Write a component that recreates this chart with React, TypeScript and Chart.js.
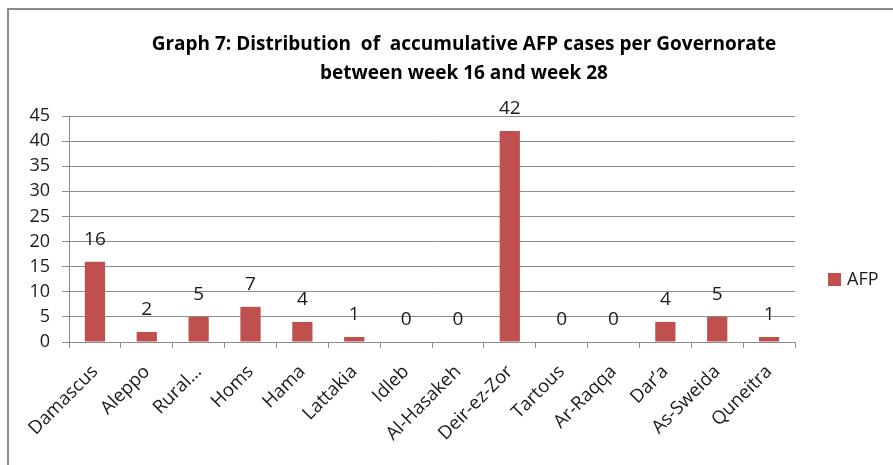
import React, { useEffect, useRef } from "react";
import { Chart, registerables } from "chart.js";

Chart.register(...registerables);

const categories = [
  "Damascus",
  "Aleppo",
  "Rural…",
  "Homs",
  "Hama",
  "Lattakia",
  "Idleb",
  "Al-Hasakeh",
  "Deir-ez-Zor",
  "Tartous",
  "Ar-Raqqa",
  "Dar’a",
  "As-Sweida",
  "Quneitra",
];
const afpValues = [16, 2, 5, 7, 4, 1, 0, 0, 42, 0, 0, 4, 5, 1];
const seriesName = "AFP";
const titleLines = [
  "Graph 7: Distribution  of  accumulative AFP cases per Governorate",
  "between week 16 and week 28",
];
const yMin = 0;
const yMax = 45;
const yStep = 5;

const BAR_COLOR = "#C0504D";
const GRID_COLOR = "#8C8C8C";
const TEXT_COLOR = "#1a1a1a";
const FONT = "'Open Sans', sans-serif";

const titlePlugin = {
  id: "customTitle",
  afterDraw(chart: any) {
    const ctx = chart.ctx;
    ctx.save();
    ctx.fillStyle = "#000";
    ctx.font = "bold 19px 'Liberation Sans Narrow', 'Open Sans', sans-serif";
    ctx.textAlign = "center";
    ctx.textBaseline = "middle";
    ctx.fillText(titleLines[0], 464, 45);
    ctx.fillText(titleLines[1], 464, 74);
    ctx.restore();
  },
};

const valueLabelPlugin = {
  id: "valueLabels",
  afterDatasetsDraw(chart: any) {
    const ctx = chart.ctx;
    ctx.save();
    ctx.fillStyle = TEXT_COLOR;
    ctx.font = `19px ${FONT}`;
    ctx.textAlign = "center";
    ctx.textBaseline = "middle";
    chart.data.datasets.forEach((ds: any, di: number) => {
      const meta = chart.getDatasetMeta(di);
      meta.data.forEach((bar: any, i: number) => {
        ctx.fillText(String(ds.data[i]), bar.x, bar.y - 22);
      });
    });
    ctx.restore();
  },
};

const legendPlugin = {
  id: "customLegend",
  afterDraw(chart: any) {
    const ctx = chart.ctx;
    const area = chart.chartArea;
    const ds = chart.data.datasets[0];
    const x = area.right + 33;
    const y = (area.top + area.bottom) / 2 + 50;
    ctx.save();
    ctx.fillStyle = ds.backgroundColor;
    ctx.fillRect(x, y - 6, 13, 13);
    ctx.fillStyle = TEXT_COLOR;
    ctx.font = `18px ${FONT}`;
    ctx.textAlign = "left";
    ctx.textBaseline = "middle";
    ctx.fillText(ds.label, x + 19, y + 1);
    ctx.restore();
  },
};

export default function App() {
  const canvasRef = useRef<HTMLCanvasElement | null>(null);

  useEffect(() => {
    if (!canvasRef.current) return;
    const chart = new Chart(canvasRef.current, {
      type: "bar",
      data: {
        labels: categories,
        datasets: [
          {
            label: seriesName,
            data: afpValues,
            backgroundColor: BAR_COLOR,
            barPercentage: 0.39,
            categoryPercentage: 1,
          },
        ],
      },
      plugins: [titlePlugin, valueLabelPlugin, legendPlugin],
      options: {
        animation: false,
        responsive: false,
        maintainAspectRatio: false,
        devicePixelRatio: 1,
        layout: { padding: { top: 116, right: 98, left: 0, bottom: 0 } },
        plugins: {
          legend: { display: false },
          title: { display: false },
          tooltip: { enabled: false },
        },
        scales: {
          x: {
            offset: true,
            grid: {
              offset: true,
              drawOnChartArea: false,
              drawTicks: true,
              tickLength: 6,
              color: GRID_COLOR,
            },
            border: { color: GRID_COLOR, width: 1 },
            ticks: {
              autoSkip: false,
              maxRotation: 45,
              minRotation: 45,
              color: TEXT_COLOR,
              font: { family: FONT, size: 18.5 },
              padding: 13,
            },
            afterFit(scale: any) {
              scale.height = 123;
            },
          },
          y: {
            min: yMin,
            max: yMax,
            grid: {
              color: GRID_COLOR,
              tickLength: 7,
              drawTicks: true,
            },
            border: { color: GRID_COLOR, width: 1 },
            ticks: {
              stepSize: yStep,
              color: TEXT_COLOR,
              font: { family: FONT, size: 18 },
              padding: 12,
            },
            afterFit(scale: any) {
              scale.width = 69;
            },
          },
        },
      },
    });
    return () => chart.destroy();
  }, []);

  return (
    <>
      <div
        style={{
          position: "fixed",
          left: 7,
          top: 8,
          width: 2000,
          height: 2000,
          borderLeft: "2px solid #8a8a8a",
          borderTop: "2px solid #8a8a8a",
          pointerEvents: "none",
        }}
      />
      <div style={{ position: "fixed", left: 0, top: 0, width: 893, height: 465 }}>
        <canvas ref={canvasRef} width={893} height={465} style={{ width: 893, height: 465 }} />
      </div>
    </>
  );
}
